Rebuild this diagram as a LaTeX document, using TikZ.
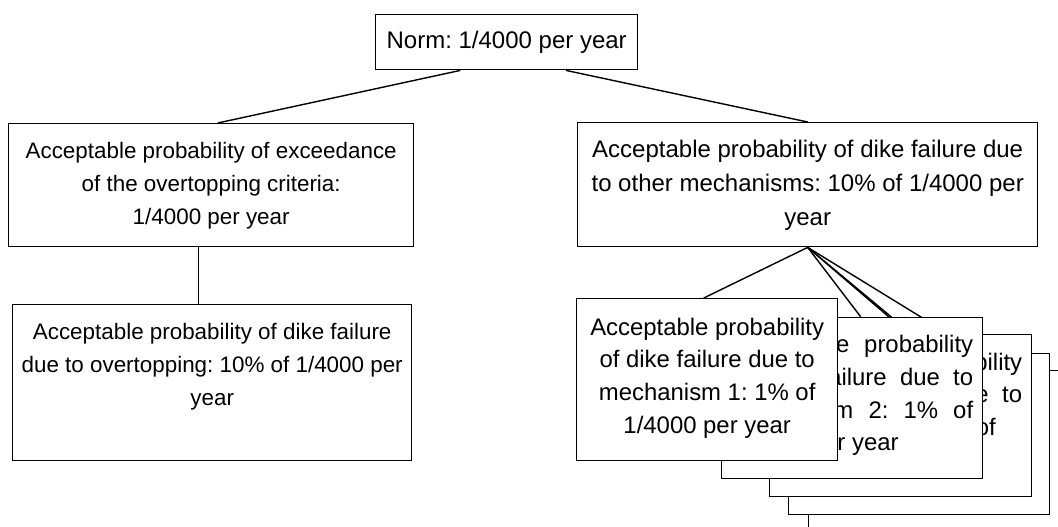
\documentclass[tikz,border=0pt]{standalone}
\usepackage{fontspec}
\setmainfont{Liberation Sans}
\usetikzlibrary{calc,backgrounds}
\frenchspacing
\tikzset{
  box/.style={draw, line width=1.4pt, fill=white, inner sep=0pt, anchor=north west},
  link/.style={line width=1.4pt}
}
\begin{document}
\begin{tikzpicture}[x=1pt,y=-1pt]
\clip (0,0) rectangle (1058,527);
% top
\node[box] (norm) at (375,14) {\parbox[c][55pt][c]{262pt}{\centering\frenchspacing\fontsize{24}{29}\selectfont Norm: 1/4000 per year}};
% level 2
\node[box] (A) at (8,123) {\parbox[c][123pt][t]{405pt}{\centering\frenchspacing\fontsize{22.4}{33}\selectfont\vspace*{18.5pt}Acceptable probability of exceedance\\of the overtopping criteria:\\1/4000 per year}};
\node[box] (B) at (577,122) {\parbox[c][124pt][t]{460pt}{\centering\frenchspacing\fontsize{24}{34}\selectfont\vspace*{17.7pt}Acceptable probability of dike failure due\\to other mechanisms: 10\% of 1/4000 per\\year}};
% level 3 left
\node[box] (C) at (12,304) {\parbox[c][156pt][t]{399pt}{\centering\frenchspacing\fontsize{22.4}{33}\selectfont\vspace*{18.5pt}Acceptable probability of dike failure\\due to overtopping: 10\% of 1/4000 per\\year}};
% stacked boxes (back to front)
\node[box] (s5) at (808,370) {\parbox[c][162pt][t]{262pt}{\mbox{}}};
\node[box] (s4) at (788,353) {\parbox[c][161pt][t]{261pt}{\mbox{}}};
\node[box] (s3) at (769,334) {\parbox[c][162pt][t]{262pt}{\leftskip=9.5pt\rightskip=9.5pt\frenchspacing\fontsize{23.9}{32.8}\selectfont\vspace*{18pt}\noindent Acceptable probability\linebreak of dike failure due to\linebreak mechanism 3: 1\% of\newline 1/4000 per year}};
\node[box] (s2) at (721,317) {\parbox[c][161pt][t]{261pt}{\leftskip=9.5pt\rightskip=9.5pt\frenchspacing\fontsize{23.9}{32.8}\selectfont\vspace*{17.5pt}\noindent Acceptable probability\linebreak of dike failure due to\linebreak mechanism 2: 1\% of\linebreak 1/4000 per year}};
\node[box] (s1) at (576,298) {\parbox[c][162pt][t]{261pt}{\centering\frenchspacing\fontsize{23.9}{32.8}\selectfont\vspace*{19pt}Acceptable probability\\of dike failure due to\\mechanism 1: 1\% of\\1/4000 per year}};
% connectors
\begin{scope}[on background layer]
\draw[link] ($(norm.south west)!0.324!(norm.south east)$) -- ($(A.north west)!0.516!(A.north east)$);
\draw[link] ($(norm.south west)!0.725!(norm.south east)$) -- (B.north);
\coordinate (a1) at ($(A.south west)!0.469!(A.south east)$);
\draw[link] (a1) -- (a1 |- C.north);
\draw[link] (B.south) -- ($(s1.north west)!0.487!(s1.north east)$);
\draw[link] (B.south) -- ($(s2.north west)!0.533!(s2.north east)$);
\draw[link] (B.south) -- ($(s3.north west)!0.531!(s3.north east)$);
\draw[link] (B.south) -- ($(s4.north west)!0.559!(s4.north east)$);
\draw[link] (B.south) -- ($(s5.north west)!0.756!(s5.north east)$);
\end{scope}
\end{tikzpicture}
\end{document}
